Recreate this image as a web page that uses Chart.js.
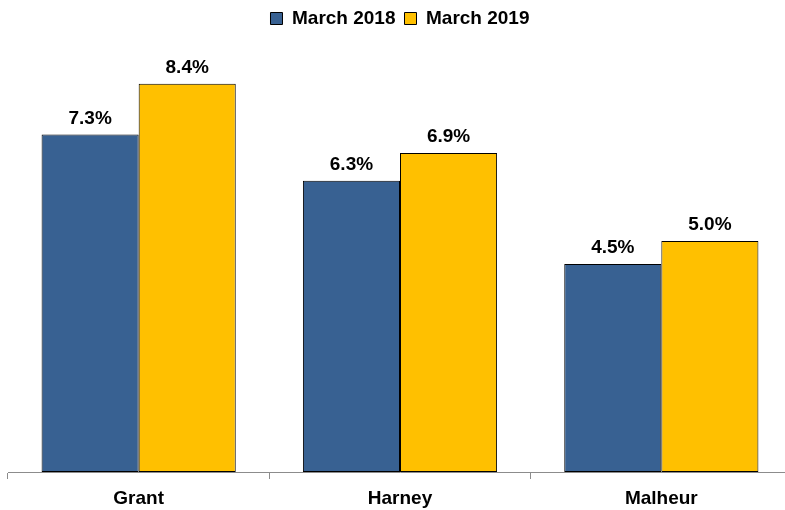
<!DOCTYPE html>
<html>
<head>
<meta charset="utf-8">
<script src="https://cdn.jsdelivr.net/npm/chart.js@4"></script>
<style>
    html, body { margin: 0; padding: 0; background: #fff; overflow: hidden; }
    #wrap { width: 792px; height: 510px; position: relative; }
</style>
</head>
<body>
<div id="wrap"><canvas id="chart"></canvas></div>
<script>
const categories = ["Grant", "Harney", "Malheur"];
const seriesNames = ["March 2018", "March 2019"];
const march2018 = [7.3, 6.3, 4.5];
const march2019 = [8.4, 6.9, 5.0];

const fontFamily = "'Liberation Sans', Arial, sans-serif";

// legend takes a fixed band above the bars
const legendBand = {
    id: "legendBand",
    beforeInit(chart) {
        const fit = chart.legend.fit;
        chart.legend.fit = function () {
            fit.bind(chart.legend)();
            this.height = 56;
        };
    }
};

// percent labels over each bar
const valueLabels = {
    id: "valueLabels",
    afterDatasetsDraw(chart) {
        const ctx = chart.ctx;
        ctx.save();
        ctx.font = "bold 19px " + fontFamily;
        ctx.fillStyle = "#000";
        ctx.textAlign = "center";
        ctx.textBaseline = "alphabetic";
        chart.data.datasets.forEach((ds, i) => {
            chart.getDatasetMeta(i).data.forEach((bar, j) => {
                ctx.fillText(ds.data[j].toFixed(1) + "%", bar.x, bar.y - 11);
            });
        });
        ctx.restore();
    }
};

new Chart(document.getElementById("chart").getContext("2d"), {
    type: "bar",
    data: {
        labels: categories,
        datasets: [
            {
                label: seriesNames[0],
                data: march2018,
                backgroundColor: "#386192",
                borderColor: "#000",
                borderWidth: 1,
                borderSkipped: false
            },
            {
                label: seriesNames[1],
                data: march2019,
                backgroundColor: "#FFC000",
                borderColor: "#000",
                borderWidth: 1,
                borderSkipped: false
            }
        ]
    },
    options: {
        responsive: true,
        maintainAspectRatio: false,
        animation: false,
        layout: { padding: { left: 8, right: 0, top: 0, bottom: 0 } },
        datasets: {
            bar: { categoryPercentage: 0.743, barPercentage: 1.0 }
        },
        plugins: {
            legend: {
                position: "top",
                labels: {
                    boxWidth: 12,
                    boxHeight: 12,
                    padding: 9,
                    color: "#000",
                    font: { family: fontFamily, size: 19, weight: "bold" }
                }
            },
            tooltip: { enabled: false }
        },
        scales: {
            x: {
                afterFit(scale) { scale.height = 38; },
                grid: {
                    display: true,
                    drawOnChartArea: false,
                    drawTicks: true,
                    tickLength: 7,
                    color: "#8c8c8c"
                },
                border: { display: true, color: "#8c8c8c", width: 1 },
                ticks: {
                    padding: 8,
                    color: "#000",
                    font: { family: fontFamily, size: 19, weight: "bold" }
                }
            },
            y: {
                display: false,
                min: 0,
                max: 9
            }
        }
    },
    plugins: [legendBand, valueLabels]
});
</script>
</body>
</html>
